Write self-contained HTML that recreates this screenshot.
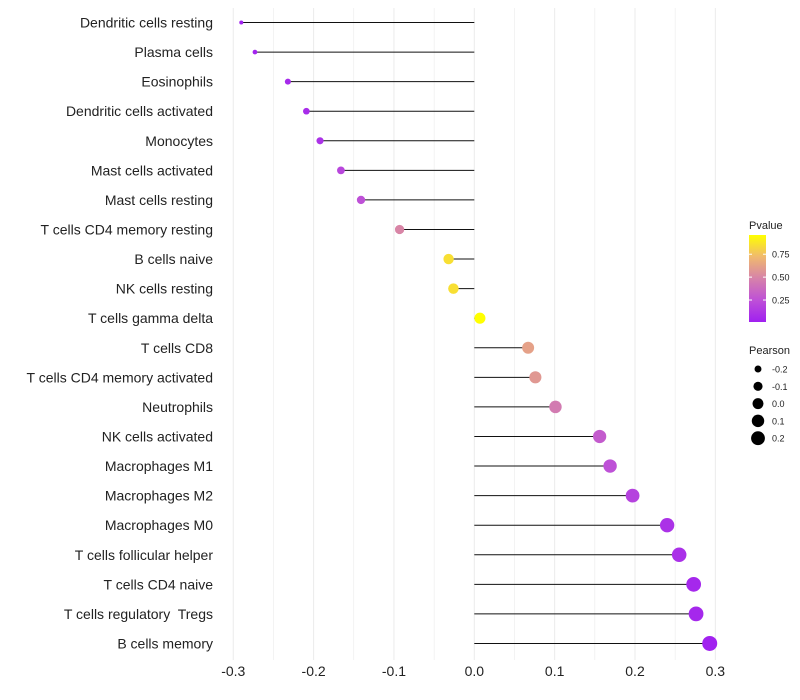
<!DOCTYPE html>
<html><head><meta charset="utf-8"><style>
body{margin:0;background:#fff;}
svg{font-family:"Liberation Sans",Arial,sans-serif;display:block}
text{white-space:pre}
</style></head><body>
<svg id="chart" width="800" height="700"></svg>
<script>
const categories=["Dendritic cells resting","Plasma cells","Eosinophils","Dendritic cells activated","Monocytes","Mast cells activated","Mast cells resting","T cells CD4 memory resting","B cells naive","NK cells resting","T cells gamma delta","T cells CD8","T cells CD4 memory activated","Neutrophils","NK cells activated","Macrophages M1","Macrophages M2","Macrophages M0","T cells follicular helper","T cells CD4 naive","T cells regulatory  Tregs","B cells memory"];
const pearson=[-0.290,-0.273,-0.232,-0.209,-0.192,-0.166,-0.141,-0.093,-0.032,-0.026,0.007,0.067,0.076,0.101,0.156,0.169,0.197,0.240,0.255,0.273,0.276,0.293];
const pvalues=[0.02,0.03,0.06,0.07,0.1,0.2,0.25,0.5,0.85,0.85,0.96,0.62,0.58,0.45,0.3,0.25,0.18,0.1,0.09,0.05,0.05,0.02];
const xTicks=[-0.3,-0.2,-0.1,0.0,0.1,0.2,0.3];
const xTickLabels=["-0.3","-0.2","-0.1","0.0","0.1","0.2","0.3"];
const pTicks=[0.25,0.5,0.75];
const pTickLabels=["0.25","0.50","0.75"];
const sizeBreaks=[-0.2,-0.1,0.0,0.1,0.2];
const sizeLabels=["-0.2","-0.1","0.0","0.1","0.2"];

const NS="http://www.w3.org/2000/svg";
const svg=document.getElementById('chart');
function mk(t,a,p){const e=document.createElementNS(NS,t);for(const k in a)e.setAttribute(k,a[k]);(p||svg).appendChild(e);return e;}
const x=v=>474.3+v*803.5;
const y=i=>22.5+i*29.57;
const pMin=0.01,pMax=0.96;
const stops=[[0,[160,32,240]],[0.25,[190,80,215]],[0.5,[214,130,170]],[0.75,[240,185,110]],[1,[255,255,0]]];
function col(p){let t=(p-pMin)/(pMax-pMin);t=Math.max(0,Math.min(1,t));
 for(let i=1;i<stops.length;i++){if(t<=stops[i][0]){const a=stops[i-1],b=stops[i];const f=(t-a[0])/(b[0]-a[0]);
 return 'rgb('+a[1].map((c,j)=>Math.round(c+(b[1][j]-c)*f)).join(',')+')';}}return 'rgb(255,255,0)';}
const sMin=Math.min(...pearson),sMax=Math.max(...pearson);
function rad(v){const t=(v-sMin)/(sMax-sMin);return Math.sqrt(4+t*(56-4));}

const grid=mk('g',{});


for(let v=-0.3;v<=0.3001;v+=0.05){mk('line',{x1:x(v),x2:x(v),y1:8,y2:660,stroke:'#ebebeb','stroke-width':Math.abs(Math.round(v*20))%2===0?1:0.6},grid);}
xTicks.forEach((v,i)=>{const t=mk('text',{x:x(v),y:676,'text-anchor':'middle','font-size':14,fill:'#222'});t.textContent=xTickLabels[i];

});
categories.forEach((c,i)=>{
 const t=mk('text',{x:213,y:y(i)+5,'text-anchor':'end','font-size':14,fill:'#222'});t.textContent=c;
 
 
 const l=mk('line',{x1:x(0),x2:x(pearson[i]),y1:y(i),y2:y(i),stroke:'#111','stroke-width':1});
 
 
 const d=mk('circle',{cx:x(pearson[i]),cy:y(i),r:rad(pearson[i]),fill:col(pvalues[i])});
 
 
});
const defs=mk('defs',{});
const lg=mk('linearGradient',{id:'pg',x1:0,y1:1,x2:0,y2:0},defs);
stops.forEach(s=>mk('stop',{offset:s[0],'stop-color':'rgb('+s[1].join(',')+')'},lg));
const cl=mk('g',{});


mk('text',{x:749,y:229,'font-size':11,fill:'#222'},cl).textContent='Pvalue';
mk('rect',{x:749,y:235,width:17,height:87,fill:'url(#pg)'},cl);
const py=p=>322-(p-pMin)/(pMax-pMin)*87;
pTicks.forEach((p,i)=>{mk('line',{x1:749,x2:752,y1:py(p),y2:py(p),stroke:'#fff'},cl);mk('line',{x1:763,x2:766,y1:py(p),y2:py(p),stroke:'#fff'},cl);
 mk('text',{x:772,y:py(p)+3.5,'font-size':9,fill:'#222'},cl).textContent=pTickLabels[i];});
const sl=mk('g',{});


mk('text',{x:749,y:354,'font-size':11,fill:'#222'},sl).textContent='Pearson';
sizeBreaks.forEach((v,i)=>{const yy=369+i*17.3;mk('circle',{cx:758,cy:yy,r:rad(v),fill:'#000'},sl);
 mk('text',{x:772,y:yy+3.5,'font-size':9,fill:'#222'},sl).textContent=sizeLabels[i];});
</script>
</body></html>
